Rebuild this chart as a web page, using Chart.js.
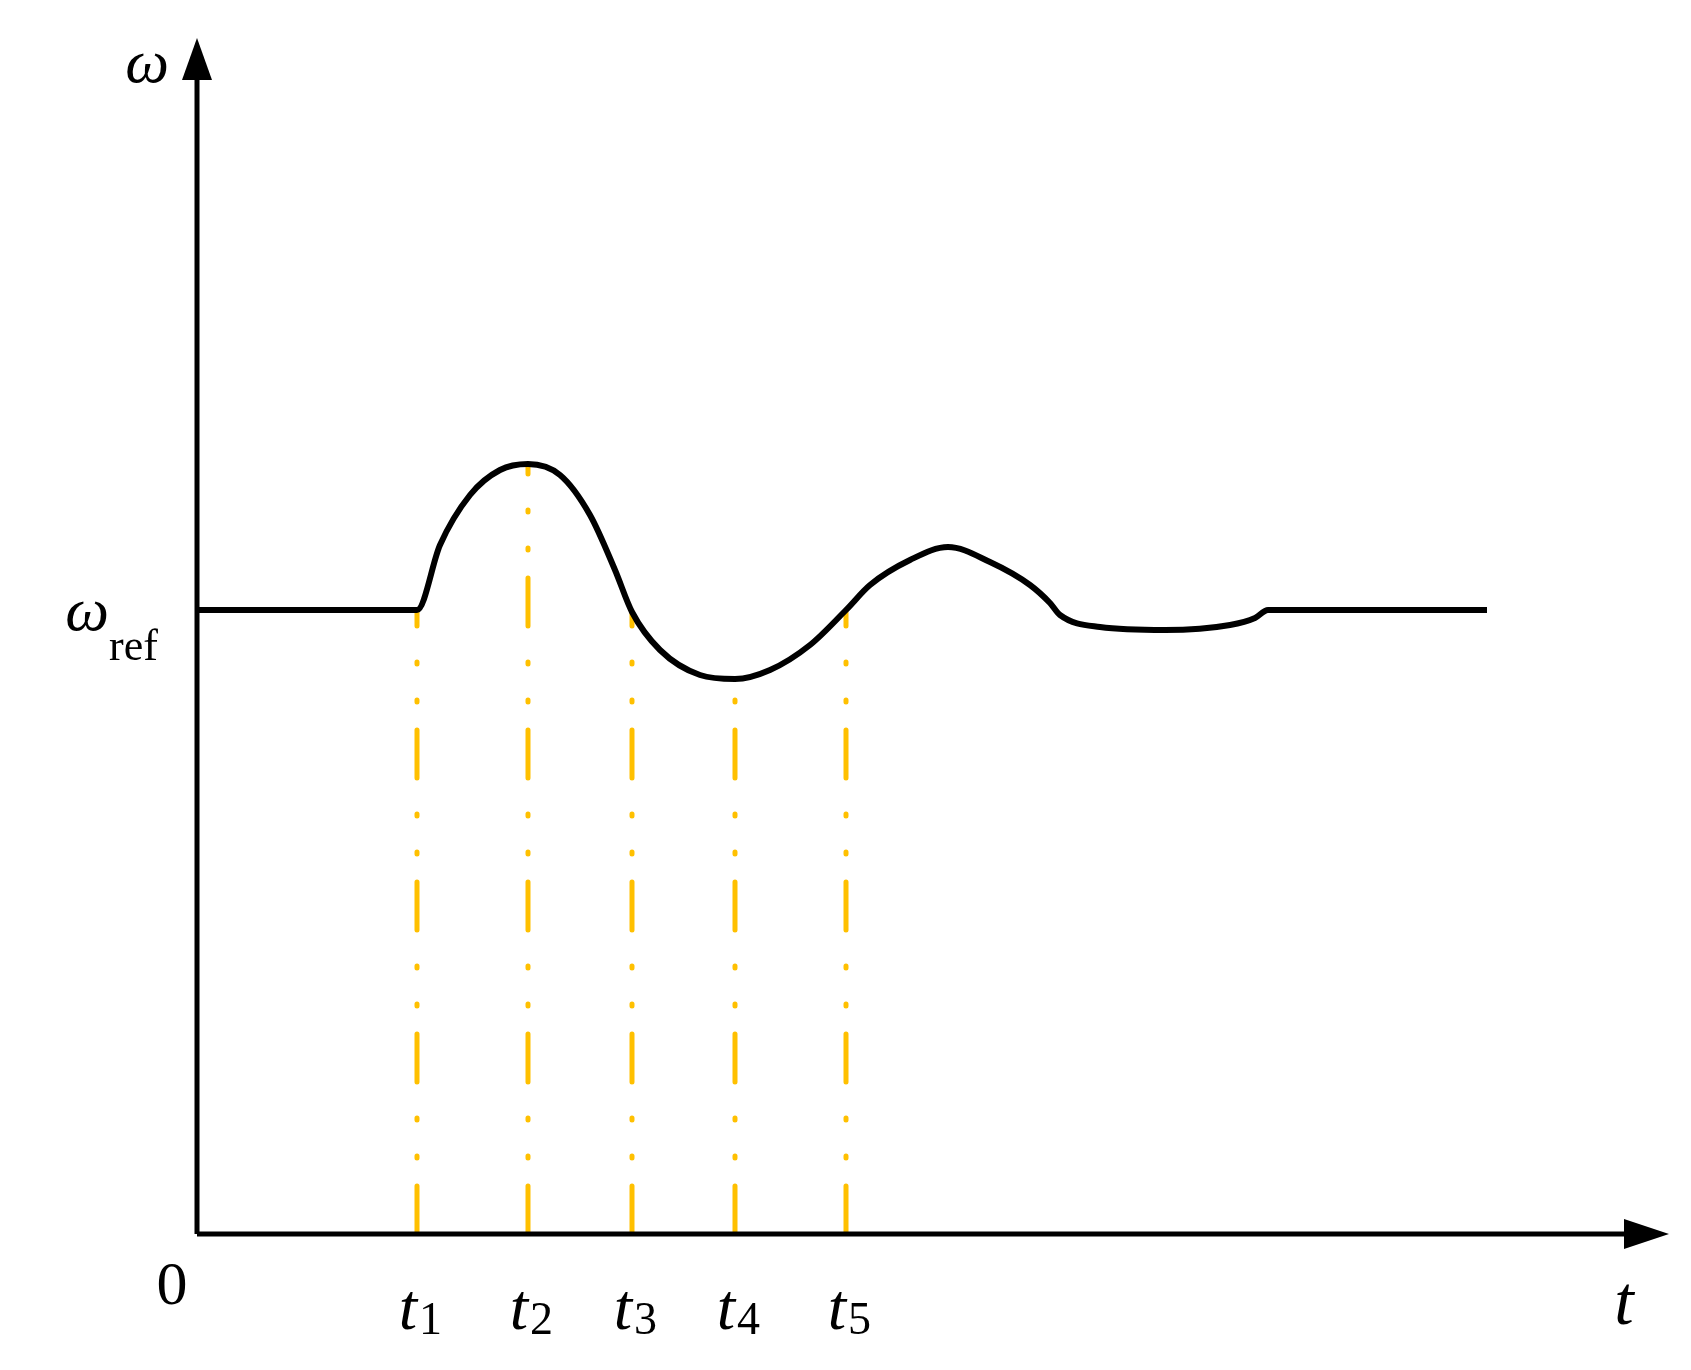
<!DOCTYPE html>
<html>
<head>
<meta charset="utf-8">
<script src="https://cdn.jsdelivr.net/npm/chart.js@4"></script>
<style>
  body { margin: 0; background: #fff; }
</style>
</head>
<body>
<canvas id="LineChart" width="1691" height="1370"></canvas>
<script>
// response curve (t, omega)
var curveT = [0, 2.20, 2.43, 2.73, 3.03, 3.31, 3.63, 3.93, 4.18, 4.35, 4.63, 5.03, 5.38, 5.73, 6.13, 6.49,
              6.73, 7.13, 7.51, 7.93, 8.33, 8.53, 8.63, 9.03, 9.68, 10.33, 10.58, 10.71, 12.90];
var curveW = [6.24, 6.24, 6.89, 7.39, 7.64, 7.70, 7.59, 7.19, 6.64, 6.22, 5.84, 5.59, 5.55, 5.64, 5.89, 6.24,
              6.49, 6.74, 6.87, 6.72, 6.49, 6.31, 6.19, 6.07, 6.04, 6.09, 6.16, 6.24, 6.24];
// marker times t1..t5 and the curve value where each guide stops
var markT = [2.20, 3.31, 4.35, 5.38, 6.49];
var markW = [6.24, 7.70, 6.22, 5.55, 6.24];
var markLabels = ['1', '2', '3', '4', '5'];
var wRef = 6.24;

var xMax = 14.72, yMax = 11.96;

var datasets = [{
    data: curveT.map((t, i) => ({ x: t, y: curveW[i] })),
    showLine: true,
    borderColor: '#000',
    borderWidth: 6,
    pointRadius: 0,
    tension: 0.35,
    cubicInterpolationMode: 'monotone'
}];
markT.forEach(function (t, i) {
    datasets.push({
        data: [{ x: t, y: 0 }, { x: t, y: markW[i] }],
        showLine: true,
        borderColor: '#FFC000',
        borderWidth: 5,
        borderCapStyle: 'round',
        borderDash: [48, 28, 2, 36, 2, 36],
        pointRadius: 0
    });
});

// axes with arrows and the italic labels
var axesPlugin = {
    id: 'axes',
    afterDatasetsDraw: function (chart) {
        var c = chart.ctx, xs = chart.scales.x, ys = chart.scales.y;
        var x0 = xs.getPixelForValue(0), y0 = ys.getPixelForValue(0);
        var xe = xs.getPixelForValue(xMax), ye = ys.getPixelForValue(yMax);
        c.save();
        c.strokeStyle = '#000'; c.fillStyle = '#000'; c.lineWidth = 5;
        c.beginPath(); c.moveTo(x0, y0); c.lineTo(x0, ye + 40); c.stroke();
        c.beginPath(); c.moveTo(x0, y0); c.lineTo(xe - 40, y0); c.stroke();
        c.beginPath(); c.moveTo(x0, ye); c.lineTo(x0 - 15, ye + 42); c.lineTo(x0 + 15, ye + 42); c.closePath(); c.fill();
        c.beginPath(); c.moveTo(xe, y0); c.lineTo(xe - 45, y0 - 15); c.lineTo(xe - 45, y0 + 15); c.closePath(); c.fill();

        c.textBaseline = 'alphabetic';
        c.font = 'italic 62px "Liberation Serif"';
        c.textAlign = 'right';
        c.fillText('ω', x0 - 28, 82);
        var yr = ys.getPixelForValue(wRef);
        c.fillText('ω', x0 - 88, yr + 20);
        c.font = '44px "Liberation Serif"';
        c.textAlign = 'left';
        c.fillText('ref', x0 - 88, yr + 50);
        c.font = '62px "Liberation Serif"';
        c.textAlign = 'center';
        c.fillText('0', x0 - 25, y0 + 70);
        markT.forEach(function (t, i) {
            var px = xs.getPixelForValue(t);
            c.font = 'italic 66px "Liberation Serif"';
            c.textAlign = 'right';
            c.fillText('t', px, y0 + 95);
            c.font = '46px "Liberation Serif"';
            c.textAlign = 'left';
            c.fillText(markLabels[i], px + 2, y0 + 100);
        });
        c.font = 'italic 70px "Liberation Serif"';
        c.textAlign = 'center';
        c.fillText('t', xe - 45, y0 + 90);
        c.restore();
    }
};

var ctx = document.getElementById('LineChart').getContext('2d');
new Chart(ctx, {
    type: 'scatter',
    data: { datasets: datasets },
    options: {
        responsive: false,
        animation: false,
        layout: { padding: { left: 197, top: 38, right: 22, bottom: 136 } },
        scales: {
            x: { type: 'linear', min: 0, max: xMax, display: false },
            y: { type: 'linear', min: 0, max: yMax, display: false }
        },
        plugins: { legend: { display: false }, tooltip: { enabled: false } }
    },
    plugins: [axesPlugin]
});
</script>
</body>
</html>
